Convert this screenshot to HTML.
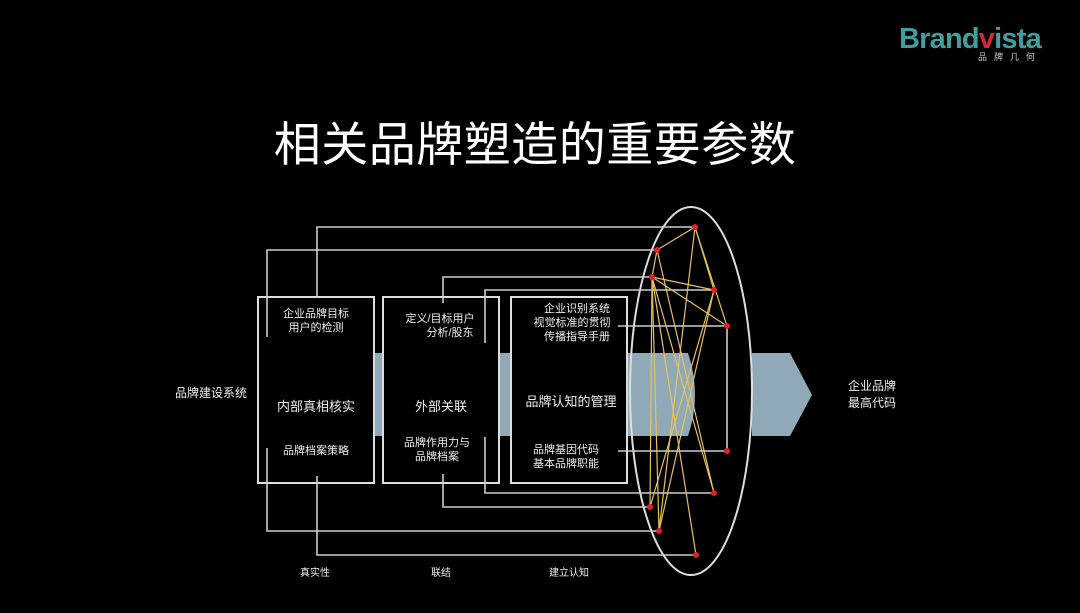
<!DOCTYPE html>
<html><head><meta charset="utf-8"><style>
body{margin:0;width:1080px;height:608px;background:#000;overflow:hidden;font-family:"Liberation Sans","Noto Sans CJK SC",sans-serif;}
</style></head><body>
<svg width="1080" height="608" xmlns="http://www.w3.org/2000/svg" font-family="Liberation Sans, Noto Sans CJK SC, sans-serif">
<rect width="1080" height="608" fill="#000"/>
<text x="899" y="48" font-size="29" font-weight="bold" fill="#3f9ea0" letter-spacing="-0.8">Brand<tspan fill="#d8262e">v</tspan>ista</text>
<text x="978" y="60" font-size="9" fill="#ccc" letter-spacing="7">品牌几何</text>
<text x="535" y="161" font-size="47" fill="#fff" text-anchor="middle" letter-spacing="0.5">相关品牌塑造的重要参数</text>
<g fill="#8fa9b9">
<rect x="374" y="353" width="9" height="83"/>
<rect x="499" y="353" width="12" height="83"/>
<path d="M627 353 H688 Q702 395 688 436 H627 Z"/>
<path d="M752 353 H790 L812 395 L790 436 H752 Z"/>
</g>
<g fill="none" stroke="#ddd" stroke-width="2">
<rect x="258" y="297" width="116" height="186"/>
<rect x="383" y="297" width="116" height="186"/>
<rect x="511" y="297" width="116" height="186"/>
<ellipse cx="691" cy="391" rx="61" ry="184"/>
</g>
<g fill="none" stroke="#ccc" stroke-width="1.6">
<polyline points="317,297 317,227 695,227"/>
<polyline points="267,337 267,250 657,250"/>
<polyline points="443,303 443,277 652,277"/>
<polyline points="485,343 485,290 714,290"/>
<polyline points="618,326 727,326 727,451 618,451"/>
<polyline points="485,437 485,493 714,493"/>
<polyline points="443,474 443,507 650,507"/>
<polyline points="267,448 267,531 659,531"/>
<polyline points="317,476 317,555 696,555"/>
</g>
<g stroke="#e6c25a" stroke-width="1.2" fill="none">
<line x1="695" y1="227" x2="657" y2="250"/>
<line x1="695" y1="227" x2="714" y2="290"/>
<line x1="695" y1="227" x2="659" y2="531"/>
<line x1="695" y1="227" x2="727" y2="326"/>
<line x1="657" y1="250" x2="714" y2="493"/>
<line x1="652" y1="277" x2="714" y2="290"/>
<line x1="652" y1="277" x2="727" y2="326"/>
<line x1="652" y1="277" x2="650" y2="507"/>
<line x1="652" y1="277" x2="659" y2="531"/>
<line x1="652" y1="277" x2="696" y2="555"/>
<line x1="652" y1="277" x2="714" y2="493"/>
<line x1="714" y1="290" x2="659" y2="531"/>
<line x1="714" y1="290" x2="650" y2="507"/>
<line x1="657" y1="250" x2="652" y2="277"/>
</g>
<g fill="#e3202a">
<circle cx="695" cy="227" r="3"/><circle cx="657" cy="250" r="3"/><circle cx="652" cy="277" r="3"/>
<circle cx="714" cy="290" r="3"/><circle cx="727" cy="326" r="3"/><circle cx="727" cy="451" r="3"/>
<circle cx="714" cy="493" r="3"/><circle cx="650" cy="507" r="3"/><circle cx="659" cy="531" r="3"/><circle cx="696" cy="555" r="3"/>
</g>
<g fill="#eee" font-size="11" text-anchor="middle">
<text x="316" y="317">企业品牌目标</text><text x="316" y="331">用户的检测</text>
<text x="316" y="411" font-size="13">内部真相核实</text>
<text x="316" y="454">品牌档案策略</text>
<text x="440" y="322">定义/目标用户</text><text x="450" y="336">分析/股东</text>
<text x="441" y="411" font-size="13">外部关联</text>
<text x="437" y="446">品牌作用力与</text><text x="437" y="460">品牌档案</text>
<text x="577" y="312">企业识别系统</text><text x="572" y="326">视觉标准的贯彻</text><text x="577" y="340">传播指导手册</text>
<text x="571" y="406" font-size="13">品牌认知的管理</text>
<text x="566" y="453">品牌基因代码</text><text x="566" y="467">基本品牌职能</text>
<text x="211" y="397" font-size="12">品牌建设系统</text>
<text x="872" y="390" font-size="12">企业品牌</text><text x="872" y="407" font-size="12">最高代码</text>
<text x="315" y="576" font-size="10">真实性</text>
<text x="441" y="576" font-size="10">联结</text>
<text x="569" y="576" font-size="10">建立认知</text>
</g>
</svg>
</body></html>
